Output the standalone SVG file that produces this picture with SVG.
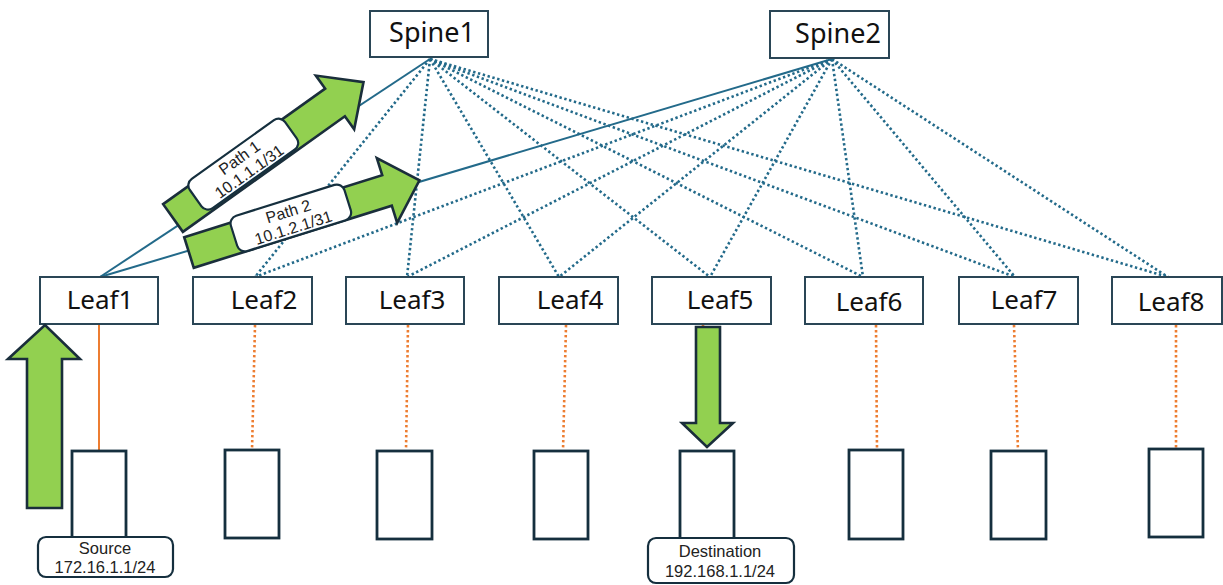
<svg xmlns="http://www.w3.org/2000/svg" width="1223" height="585" viewBox="0 0 1223 585">
  <style>
    .box { fill: #ffffff; stroke: #2a4656; stroke-width: 2; }
    .host { fill: #ffffff; stroke: #152f3e; stroke-width: 2.8; }
    .tag { fill: #ffffff; stroke: #152f3e; stroke-width: 2.2; }
    .name { font-family: "Noto Sans", "Open Sans", sans-serif; font-size: 26px; fill: #111111; text-anchor: middle; }
    .spine-name { font-size: 27px; }
    .small { font-family: "Liberation Sans", Arial, sans-serif; font-size: 16.5px; fill: #222222; text-anchor: middle; }
    .path-label { font-size: 16px; }
    .uplink { stroke: #236a8a; stroke-width: 2; fill: none; }
    .dotted { stroke: #236a8a; stroke-width: 2.6; stroke-dasharray: 2.4 2.6; fill: none; }
    .access { stroke: #ed7d31; stroke-width: 2; fill: none; }
    .access-dot { stroke: #ed7d31; stroke-width: 2.6; stroke-dasharray: 2.4 2.6; fill: none; }
    .flow { fill: #92d050; stroke: #1a2e3b; stroke-width: 2.6; stroke-linejoin: miter; }
  </style>

  <!-- fabric and access links -->
  <g id="connectors">
    <!-- active uplinks from Leaf1 -->
    <line class="uplink" x1="430" y1="59" x2="100" y2="277"/>
    <line class="uplink" x1="832" y1="59" x2="100" y2="277"/>
    <!-- Spine1 to Leaf2..Leaf8 -->
    <line class="dotted" x1="430" y1="59" x2="255" y2="277"/>
    <line class="dotted" x1="430" y1="59" x2="407" y2="277"/>
    <line class="dotted" x1="430" y1="59" x2="559" y2="277"/>
    <line class="dotted" x1="430" y1="59" x2="710" y2="277"/>
    <line class="dotted" x1="430" y1="59" x2="863" y2="277"/>
    <line class="dotted" x1="430" y1="59" x2="1015" y2="277"/>
    <line class="dotted" x1="430" y1="59" x2="1168" y2="277"/>
    <!-- Spine2 to Leaf2..Leaf8 -->
    <line class="dotted" x1="832" y1="59" x2="255" y2="277"/>
    <line class="dotted" x1="832" y1="59" x2="407" y2="277"/>
    <line class="dotted" x1="832" y1="59" x2="559" y2="277"/>
    <line class="dotted" x1="832" y1="59" x2="710" y2="277"/>
    <line class="dotted" x1="832" y1="59" x2="863" y2="277"/>
    <line class="dotted" x1="832" y1="59" x2="1015" y2="277"/>
    <line class="dotted" x1="832" y1="59" x2="1168" y2="277"/>
    <!-- leaf to host -->
    <line class="access" x1="99" y1="324" x2="99" y2="451"/>
    <line class="access-dot" x1="255" y1="325" x2="252" y2="450"/>
    <line class="access-dot" x1="408" y1="325" x2="406" y2="451"/>
    <line class="access-dot" x1="566" y1="325" x2="563" y2="451"/>
    <line class="access-dot" x1="703" y1="325" x2="707" y2="451"/>
    <line class="access-dot" x1="876" y1="325" x2="877" y2="450"/>
    <line class="access-dot" x1="1014" y1="325" x2="1018" y2="451"/>
    <line class="access-dot" x1="1176" y1="325" x2="1176" y2="449"/>
  </g>

  <!-- spines -->
  <g id="spine1">
    <rect class="box" x="370" y="11" width="118" height="46"/>
    <text class="name spine-name" x="432" y="42">Spine1</text>
  </g>
  <g id="spine2">
    <rect class="box" x="770" y="11" width="119" height="47"/>
    <text class="name spine-name" x="838" y="43">Spine2</text>
  </g>

  <!-- leaves -->
  <g id="leaf1"><rect class="box" x="40" y="277" width="118" height="47"/><text class="name" x="100" y="309">Leaf1</text></g>
  <g id="leaf2"><rect class="box" x="193" y="277" width="119" height="47"/><text class="name" x="264" y="309">Leaf2</text></g>
  <g id="leaf3"><rect class="box" x="346" y="277" width="118" height="47"/><text class="name" x="412" y="309">Leaf3</text></g>
  <g id="leaf4"><rect class="box" x="499" y="277" width="119" height="47"/><text class="name" x="570" y="309">Leaf4</text></g>
  <g id="leaf5"><rect class="box" x="652" y="277" width="119" height="47"/><text class="name" x="720" y="309">Leaf5</text></g>
  <g id="leaf6"><rect class="box" x="805" y="277" width="118" height="47"/><text class="name" x="869" y="311">Leaf6</text></g>
  <g id="leaf7"><rect class="box" x="959" y="277" width="119" height="47"/><text class="name" x="1024" y="309">Leaf7</text></g>
  <g id="leaf8"><rect class="box" x="1112" y="277" width="110" height="47"/><text class="name" x="1171" y="311">Leaf8</text></g>

  <!-- hosts -->
  <g id="host1"><rect class="host" x="72" y="451" width="54" height="88"/></g>
  <g id="host2"><rect class="host" x="225" y="450" width="54" height="88"/></g>
  <g id="host3"><rect class="host" x="377" y="451" width="55" height="88"/></g>
  <g id="host4"><rect class="host" x="534" y="451" width="54" height="88"/></g>
  <g id="host5"><rect class="host" x="680" y="451" width="54" height="88"/></g>
  <g id="host6"><rect class="host" x="849" y="450" width="54" height="89"/></g>
  <g id="host7"><rect class="host" x="991" y="451" width="55" height="88"/></g>
  <g id="host8"><rect class="host" x="1149" y="449" width="54" height="88"/></g>

  <!-- host address tags -->
  <g id="source-tag">
    <rect class="tag" x="38" y="537" width="135" height="40" rx="8"/>
    <text class="small" x="105" y="554">Source</text>
    <text class="small" x="105" y="573">172.16.1.1/24</text>
  </g>
  <g id="destination-tag">
    <rect class="tag" x="648" y="538" width="146" height="45" rx="8"/>
    <text class="small" x="720" y="557">Destination</text>
    <text class="small" x="720" y="577">192.168.1.1/24</text>
  </g>

  <!-- traffic flow arrows -->
  <g id="ingress-arrow">
    <path class="flow" d="M27,508 L27,359 L8,359 L45,325 L80,359 L62,359 L62,508 Z"/>
  </g>
  <g id="egress-arrow">
    <path class="flow" d="M696,327 L720,327 L720,423 L733,423 L707,447 L682,423 L696,423 Z"/>
  </g>
  <g id="path1" transform="translate(173,218) rotate(-35.5)">
    <path class="flow" d="M0,-17 L199,-17 L199,-33 L234,0 L199,33 L199,17 L0,17 Z"/>
    <rect class="tag" x="30" y="-21" width="117" height="36" rx="8"/>
    <text class="small path-label" x="89" y="-5">Path 1</text>
    <text class="small path-label" x="89" y="12">10.1.1.1/31</text>
  </g>
  <g id="path2" transform="translate(189,252.5) rotate(-17.4)">
    <path class="flow" d="M0,-16 L207.5,-16 L207.5,-34 L241.5,0 L207.5,34 L207.5,16 L0,16 Z"/>
    <rect class="tag" x="48" y="-21" width="119" height="37" rx="8"/>
    <text class="small path-label" x="107" y="-4">Path 2</text>
    <text class="small path-label" x="107" y="13">10.1.2.1/31</text>
  </g>
</svg>
